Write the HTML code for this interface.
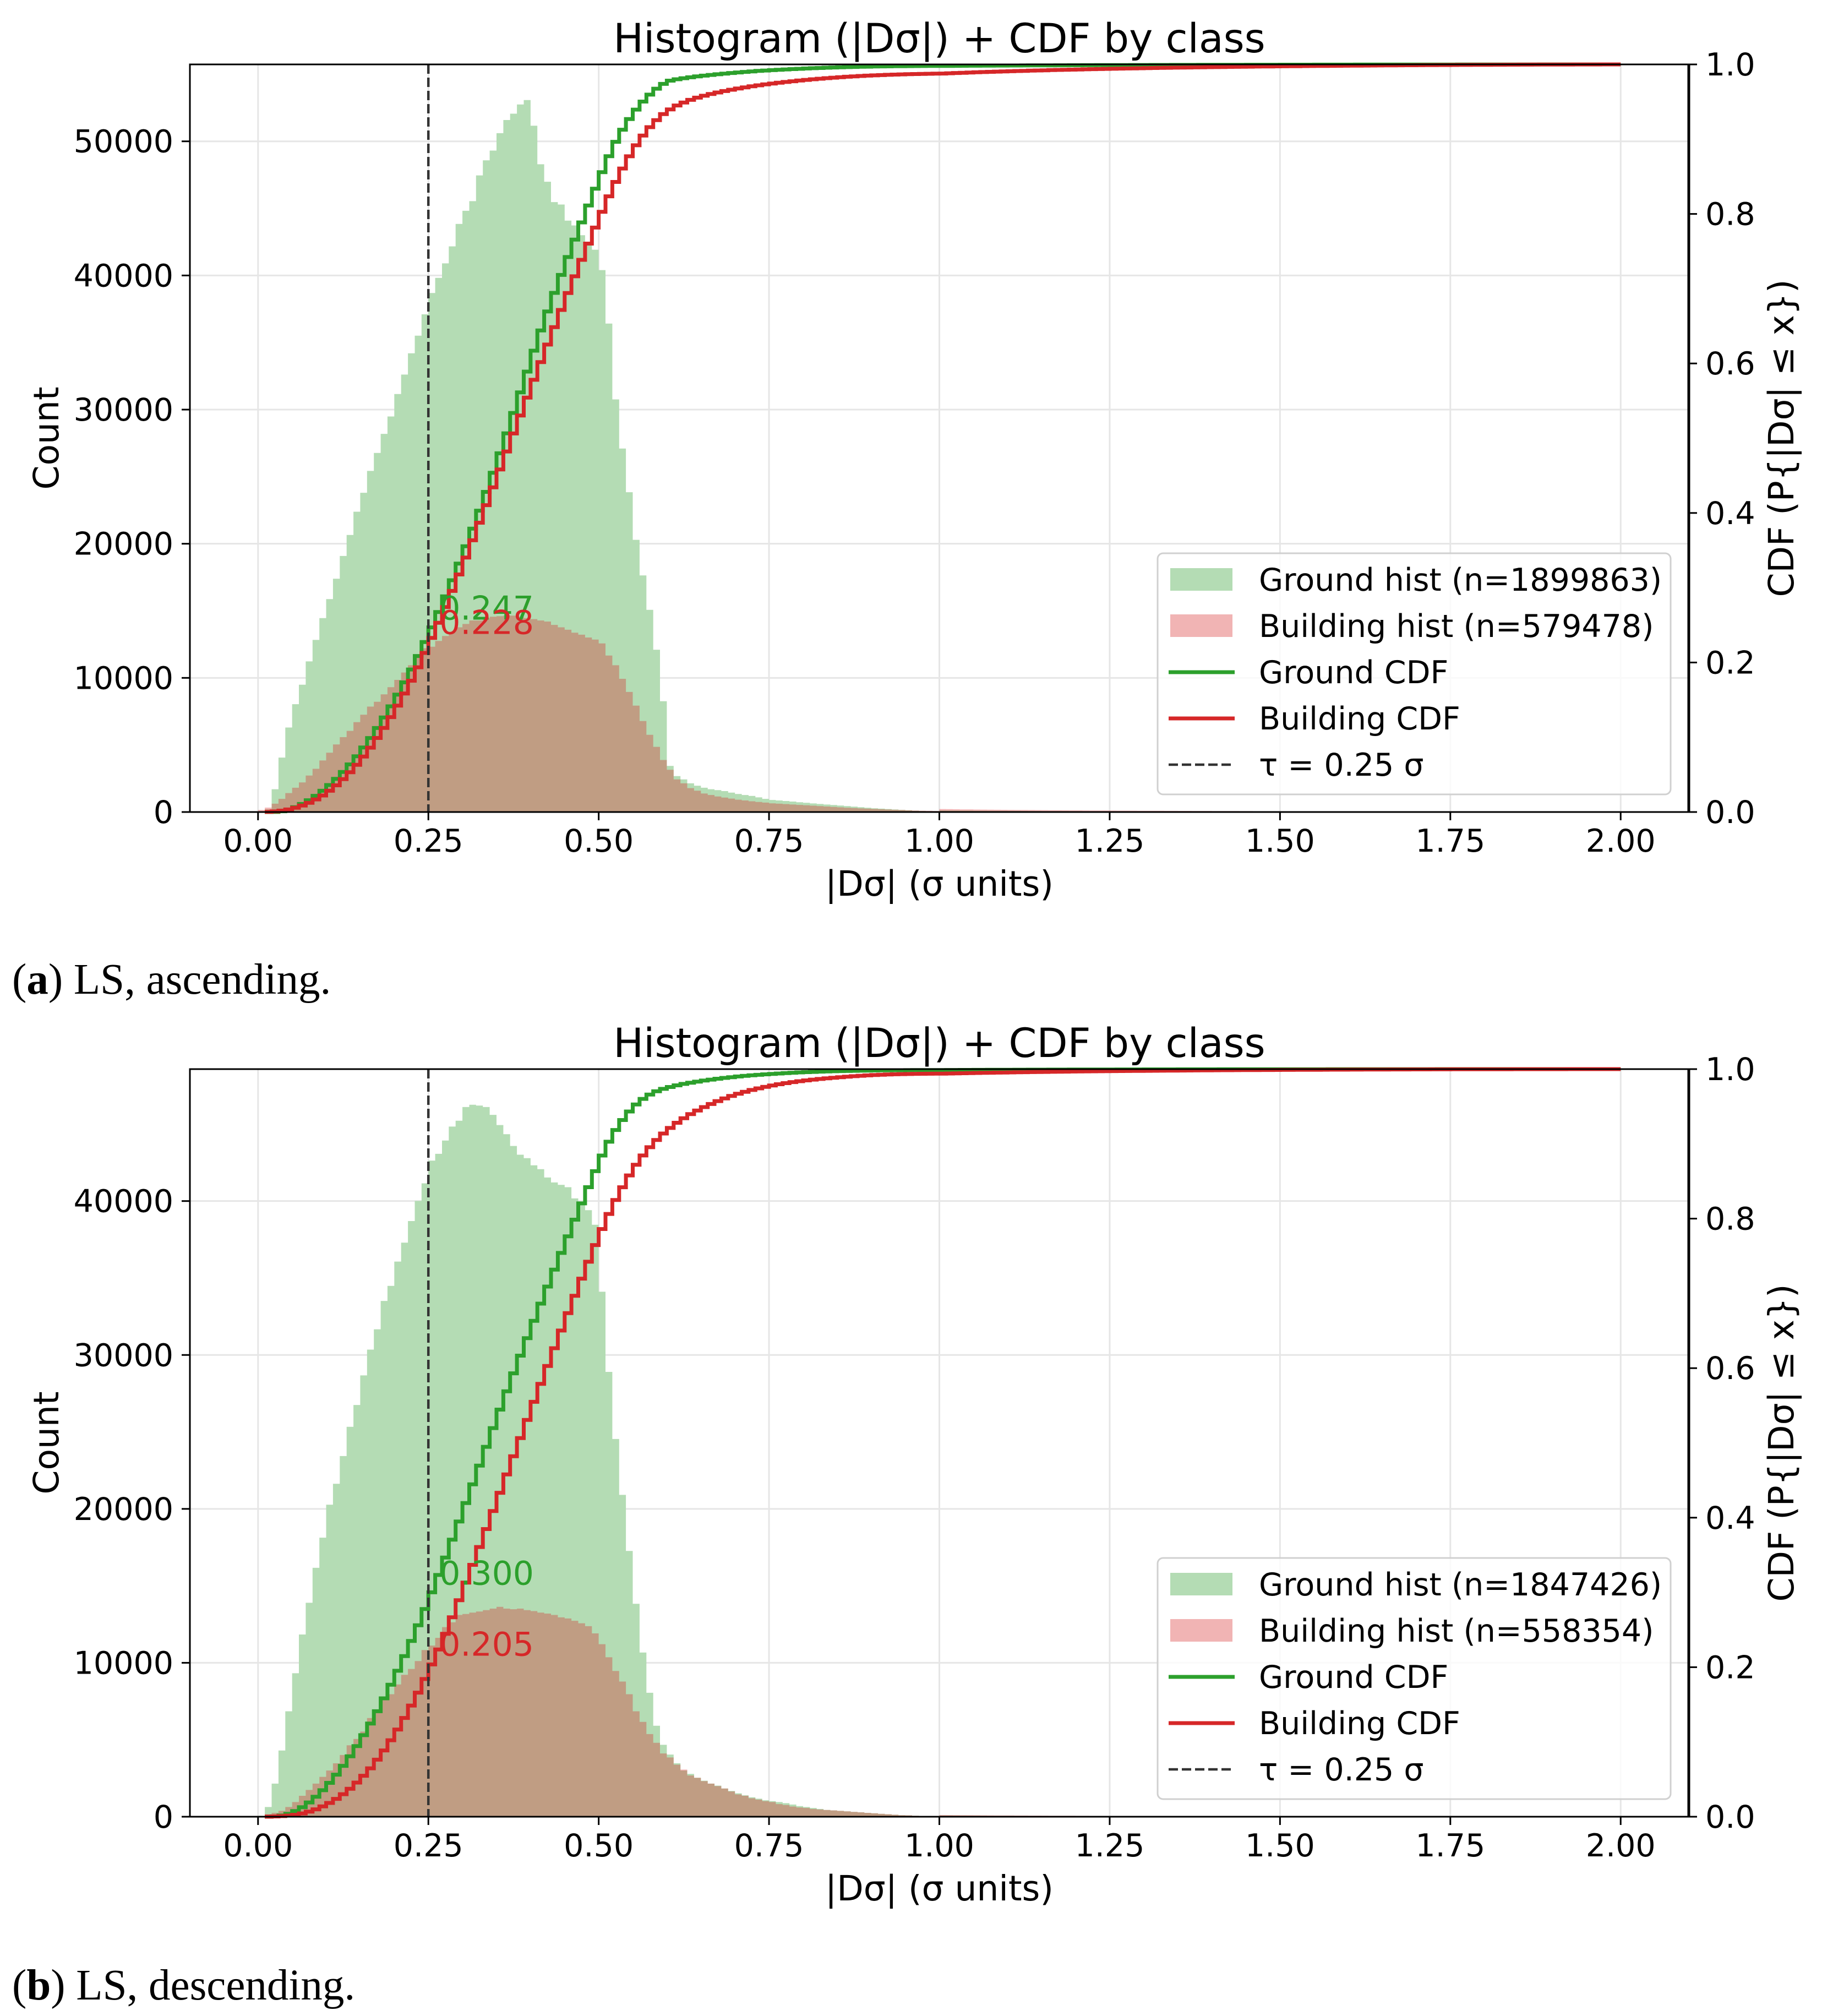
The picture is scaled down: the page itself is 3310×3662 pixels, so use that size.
<!DOCTYPE html>
<html><head><meta charset="utf-8">
<style>
html,body{margin:0;padding:0;background:#fff;}
svg{display:block;}
.t{font-family:"DejaVu Sans","Liberation Sans",sans-serif;fill:#000;}
.cap{font-family:"Liberation Serif",serif;font-size:79px;fill:#000;}
</style></head>
<body>
<svg id="fig" xmlns="http://www.w3.org/2000/svg" width="3310" height="3662" viewBox="0 0 3310 3662">
<rect width="3310" height="3662" fill="#fff"/>
<text class="cap" x="22" y="1805">(<tspan font-weight="bold">a</tspan>) LS, ascending.</text>
<text class="cap" x="22" y="3632">(<tspan font-weight="bold">b</tspan>) LS, descending.</text>
</svg>
<script>
// ---- data (bins of width 0.01 from 0 to 2) ----
const binWidth = 0.01;
const xTicks = [0, 0.25, 0.5, 0.75, 1.0, 1.25, 1.5, 1.75, 2.0];
const xTickLabels = ["0.00","0.25","0.50","0.75","1.00","1.25","1.50","1.75","2.00"];
const cdfTicks = [0, 0.2, 0.4, 0.6, 0.8, 1.0];
const cdfTickLabels = ["0.0","0.2","0.4","0.6","0.8","1.0"];
const countTicksA = [0, 10000, 20000, 30000, 40000, 50000];
const countTicksB = [0, 10000, 20000, 30000, 40000];
const tau = 0.25;
const annotA = ["0.247", "0.228"];
const annotValA = [0.247, 0.228];
const annotB = ["0.300", "0.205"];
const annotValB = [0.300, 0.205];
const nA = ["1899863", "579478"];
const nB = ["1847426", "558354"];

const groundA = [0,200,1700,4060,6300,8040,9490,11230,12830,14460,15870,17390,19090,20650,22390,23800,25430,26770,28190,29490,31160,32610,34200,35510,37100,38690,39820,40900,42170,43840,44820,45540,47460,48580,49310,50610,51590,52060,52750,53080,51160,48290,46990,45470,45290,44090,43730,43000,42460,41920,40400,36410,30760,27100,23840,20290,17640,15070,12100,8260,3440,2680,2430,2140,1960,1810,1700,1630,1560,1450,1340,1270,1200,1090,980,900,860,820,780,730,690,640,600,560,520,480,440,400,360,320,280,250,220,190,160,130,100,80,60,40];
const groundATail = [120,115,110,108,105,100,98,95,92,90,88,85,82,80,78,75,72,70,68,66,64,62,60,58,56,54,52,50,49,48,47,46,45,44,43,42,41,40,39,38,37,36,35,34,33,32,31,30,29,28,27,27,26,26,25,25,24,24,23,23,22,22,21,21,20,20,19,19,18,18,17,17,16,16,15,15,14,14,13,13,12,12,11,11,10,10,9,9,8,8,7,7,6,6,5,5,4,4,3,3];
const buildingA = [150,330,620,980,1410,1810,2210,2720,3220,3840,4420,5040,5580,6050,6700,7250,7860,8220,8770,9310,9850,10400,10940,11670,12210,12320,12750,13120,13410,13770,14020,14280,14280,14460,14560,14600,14640,14640,14560,14460,14380,14280,14200,13950,13770,13590,13370,13220,13010,12860,12570,11670,10940,9930,8950,7930,6780,5760,4860,3880,3150,2430,2140,1780,1590,1380,1270,1160,1080,1000,920,860,800,750,700,650,620,590,560,530,500,470,440,410,380,350,320,300,270,250,230,210,190,170,150,130,115,100,90,80];
const buildingATail = [220,212,205,198,192,186,180,175,170,165,160,156,152,148,144,140,136,132,128,125,122,119,116,113,110,107,104,101,98,96,94,92,90,88,86,84,82,80,78,76,74,72,70,68,66,64,62,60,58,56,55,54,53,52,51,50,49,48,47,46,45,44,43,42,41,40,39,38,37,36,35,34,33,32,31,30,29,28,27,26,25,24,23,22,21,20,19,18,17,16,15,14,13,12,11,10,9,8,7,6];
const groundB = [60,630,2150,4300,6850,9320,11840,13900,16170,18130,20270,21630,23430,25330,26750,28670,30350,31670,33510,34490,36070,37300,38700,40010,41150,42630,43070,43930,44840,45220,46110,46260,46200,46110,45600,44940,44340,43580,43010,42790,42320,42070,41530,41210,41050,40900,40170,39850,39410,38460,34110,28900,24540,20910,17270,13830,10670,8050,5910,4670,4040,3470,3000,2780,2530,2340,2150,2020,1830,1670,1520,1390,1260,1170,1070,1010,950,880,790,690,630,570,505,440,410,380,350,315,285,250,220,190,160,130,100,90,60,40,30,20];
const groundBTail = [80,78,76,74,72,70,68,66,64,62,60,58,56,54,52,50,48,46,44,42,40,39,38,37,36,35,34,33,32,31,30,29,28,27,26,25,24,23,22,21,20,20,19,19,18,18,17,17,16,16,15,15,14,14,13,13,12,12,11,11,10,10,9,9,8,8,8,7,7,7,6,6,6,5,5,5,4,4,4,4,3,3,3,3,2,2,2,2,2,2,1,1,1,1,1,1,1,1,1,1];
const buildingB = [30,160,250,380,630,950,1360,1740,2150,2590,3000,3470,4010,4640,5050,5530,6410,6880,7580,7960,8590,9220,9600,10110,10830,11120,11620,12320,12630,13110,13170,13260,13330,13420,13520,13640,13520,13480,13520,13420,13360,13260,13200,13110,12950,12880,12730,12570,12380,11910,11210,10360,9470,8780,7960,6850,6160,5370,4800,4110,3850,3380,3060,2680,2530,2310,2150,1990,1830,1640,1450,1360,1200,1110,1010,950,820,760,660,600,570,500,470,440,410,380,350,315,285,250,220,190,160,130,100,90,60,40,30,20];
const buildingBTail = [110,106,102,98,95,92,89,86,83,80,78,76,74,72,70,68,66,64,62,60,58,56,54,52,50,48,47,46,45,44,43,42,41,40,39,38,37,36,35,34,33,32,31,30,29,28,27,26,25,24,24,23,23,22,22,21,21,20,20,19,19,18,18,17,17,16,16,15,15,14,14,13,13,12,12,11,11,10,10,9,9,8,8,7,7,6,6,5,5,4,4,4,3,3,3,2,2,2,1,1];

const NS = "http://www.w3.org/2000/svg";
const fig = document.getElementById("fig");
const GREEN = "#2ca02c", RED = "#d62728";
const X0 = 345, X1 = 3068, XMIN = -0.1, XMAX = 2.1;
function xs(v){ return X0 + (v - XMIN) / (XMAX - XMIN) * (X1 - X0); }
function mk(tag, attrs, parent){
  const e = document.createElementNS(NS, tag);
  for (const k in attrs) e.setAttribute(k, attrs[k]);
  (parent || fig).appendChild(e);
  return e;
}

function panel(top, ground, building, countTicks, annot, annotVal, nLabels, id){
  const H = 1358, bottom = top + H;
  const ymax = 1.05 * Math.max(Math.max(...ground), Math.max(...building));
  const yc = v => bottom - v / ymax * H;
  const yp = v => bottom - v * H;
  const g = mk("g", {});
  
  

  for (const t of xTicks){
    const l = mk("line", {x1: xs(t), x2: xs(t), y1: top, y2: bottom, stroke: "#e6e6e6", "stroke-width": 3}, g);
    
    
  }
  for (const t of countTicks){
    const l = mk("line", {x1: X0, x2: X1, y1: yc(t), y2: yc(t), stroke: "#e6e6e6", "stroke-width": 3}, g);
    
    
  }

  // histograms as step-filled paths (one per series)
  const series = [[ground, "rgb(180,220,180)", 1, "ground-hist"], [building, RED, 0.35, "building-hist"]];
  for (const [arr, col, op, nm] of series){
    let d = "M" + xs(0).toFixed(1) + "," + bottom;
    for (let i = 0; i < arr.length; i++){
      const x1 = xs(i * binWidth), x2 = xs((i + 1) * binWidth), y = yc(arr[i]);
      d += "L" + x1.toFixed(1) + "," + y.toFixed(1) + "L" + x2.toFixed(1) + "," + y.toFixed(1);
    }
    d += "L" + xs(arr.length * binWidth).toFixed(1) + "," + bottom + "Z";
    const p = mk("path", {d: d, fill: col, "fill-opacity": op, stroke: "none"}, g);
    
    
  }

  const cdfs = [[ground, GREEN, "ground-cdf-line"], [building, RED, "building-cdf-line"]];
  for (const [arr, col, nm] of cdfs){
    const tot = arr.reduce((a, b) => a + b, 0);
    let c = 0, d = "";
    for (let i = 0; i < arr.length; i++){
      c += arr[i];
      const v = c / tot;
      const xa = xs((i + 1) * binWidth), xb = xs(Math.min((i + 2) * binWidth, 2.0));
      d += (i === 0 ? "M" : "L") + xa.toFixed(1) + "," + yp(v).toFixed(1) + "L" + xb.toFixed(1) + "," + yp(v).toFixed(1);
      if (i + 2 > arr.length) break;
    }
    const p = mk("path", {d: d, fill: "none", stroke: col, "stroke-width": 7, "stroke-linejoin": "miter"}, g);
    
    
  }

  const tl = mk("line", {x1: xs(tau), x2: xs(tau), y1: top, y2: bottom, stroke: "#333", "stroke-width": 4.5, "stroke-dasharray": "17,7"}, g);
  
  

  const acol = [GREEN, RED];
  for (let k = 0; k < 2; k++){
    const t = mk("text", {x: xs(tau) + 20, y: yp(annotVal[k]) - 14, "font-size": 60, class: "t"}, g);
    t.style.fill = acol[k];
    t.textContent = annot[k];
    
    
  }

  const sp = mk("rect", {x: X0, y: top, width: X1 - X0, height: H, fill: "none", stroke: "#000", "stroke-width": 3}, g);
  
  
  const rs = mk("line", {x1: X1, x2: X1, y1: top, y2: bottom, stroke: "#000", "stroke-width": 5}, g);
  
  

  for (let i = 0; i < xTicks.length; i++){
    const x = xs(xTicks[i]);
    const tk = mk("line", {x1: x, x2: x, y1: bottom, y2: bottom + 15, stroke: "#000", "stroke-width": 3}, g);
    
    
    const tx = mk("text", {x: x, y: bottom + 72, "font-size": 57, "text-anchor": "middle", class: "t"}, g);
    tx.textContent = xTickLabels[i];
    
    
  }
  for (const t of countTicks){
    const y = yc(t);
    const tk = mk("line", {x1: X0 - 15, x2: X0, y1: y, y2: y, stroke: "#000", "stroke-width": 3}, g);
    
    
    const tx = mk("text", {x: X0 - 30, y: y + 20, "font-size": 57, "text-anchor": "end", class: "t"}, g);
    tx.textContent = String(t);
    
    
  }
  for (let i = 0; i < cdfTicks.length; i++){
    const y = yp(cdfTicks[i]);
    const tk = mk("line", {x1: X1, x2: X1 + 15, y1: y, y2: y, stroke: "#000", "stroke-width": 3}, g);
    
    
    const tx = mk("text", {x: X1 + 30, y: y + 20, "font-size": 57, class: "t"}, g);
    tx.textContent = cdfTickLabels[i];
    
    
  }

  const ttl = mk("text", {x: (X0 + X1) / 2, y: top - 22, "font-size": 73, "text-anchor": "middle", class: "t"}, g);
  ttl.textContent = "Histogram (|Dσ|) + CDF by class";
  
  
  const xl = mk("text", {x: (X0 + X1) / 2, y: bottom + 152, "font-size": 63, "text-anchor": "middle", class: "t"}, g);
  xl.textContent = "|Dσ| (σ units)";
  
  
  const cy = (top + bottom) / 2;
  const yl = mk("text", {x: 0, y: 0, "font-size": 63, "text-anchor": "middle", class: "t", transform: "translate(106," + cy + ") rotate(-90)"}, g);
  yl.textContent = "Count";
  
  
  const rl = mk("text", {x: 0, y: 0, "font-size": 63, "text-anchor": "middle", class: "t", transform: "translate(3258," + cy + ") rotate(-90)"}, g);
  rl.textContent = "CDF (P{|Dσ| ≤ x})";
  
  

  const lt = top + 888;
  const lg = mk("g", {}, g);
  
  
  mk("rect", {x: 2103, y: lt, width: 932, height: 438, rx: 10, fill: "#fff", "fill-opacity": 0.8, stroke: "#d0d0d0", "stroke-width": 3}, lg);
  const labels = ["Ground hist (n=" + nLabels[0] + ")", "Building hist (n=" + nLabels[1] + ")", "Ground CDF", "Building CDF", "τ = 0.25 σ"];
  for (let k = 0; k < 5; k++){
    const by = lt + 68 + k * 84;
    if (k === 0){
      const h = mk("rect", {x: 2126, y: by - 41, width: 113, height: 41, fill: "rgb(180,220,180)"}, lg);
      
      
    } else if (k === 1){
      const h = mk("rect", {x: 2126, y: by - 41, width: 113, height: 41, fill: RED, "fill-opacity": 0.35}, lg);
      
      
    } else {
      const cols = [null, null, GREEN, RED, "#333"];
      const h = mk("line", {x1: 2123, x2: 2243, y1: by - 20, y2: by - 20, stroke: cols[k], "stroke-width": k === 4 ? 4.5 : 7}, lg);
      if (k === 4) h.setAttribute("stroke-dasharray", "17,7");
      
      
    }
    const tx = mk("text", {x: 2287, y: by, "font-size": 57, class: "t"}, lg);
    tx.textContent = labels[k];
    
    
  }
}

panel(117, groundA.concat(groundATail), buildingA.concat(buildingATail), countTicksA, annotA, annotValA, nA, "a");
panel(1942, groundB.concat(groundBTail), buildingB.concat(buildingBTail), countTicksB, annotB, annotValB, nB, "b");
</script>
</body></html>
